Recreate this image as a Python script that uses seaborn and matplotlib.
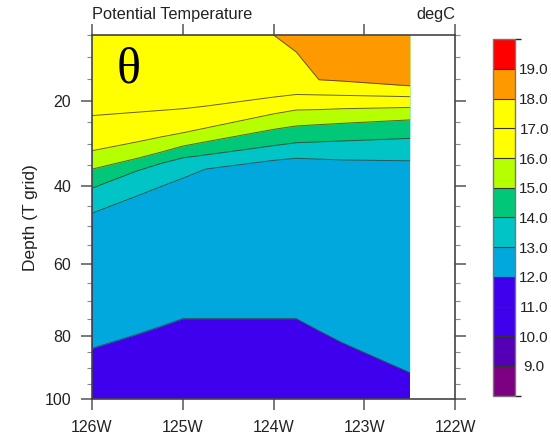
import numpy as np
import matplotlib
matplotlib.use("Agg")
import matplotlib.pyplot as plt
import seaborn as sns
from matplotlib.colors import ListedColormap, BoundaryNorm
from matplotlib.cm import ScalarMappable
from matplotlib.ticker import FixedLocator, MultipleLocator, FuncFormatter

# ---------------------------------------------------------------------------
# Section data: longitude (deg E) and the depth (m) of each isotherm
# ---------------------------------------------------------------------------
lons = np.array([-126.0, -125.5, -125.25, -125.0, -124.75,
                 -124.0, -123.75, -123.5, -123.25, -122.5])

iso_12 = [83.8, 79.5, 77.3, 75.0, 75.0, 75.0, 75.0, 78.5, 82.0, 91.3]
iso_13 = [46.8, 42.5, 40.3, 38.2, 36.0, 33.9, 33.4, 33.6, 33.8, 34.0]
iso_14 = [40.6, 36.4, 34.7, 33.3, 32.6, 30.4, 29.7, 29.5, 29.3, 28.7]
iso_15 = [36.0, 33.4, 32.0, 30.5, 29.5, 26.6, 25.8, 25.5, 25.2, 24.4]
iso_16 = [31.6, 29.5, 28.4, 27.4, 26.3, 23.0, 22.1, 22.0, 21.8, 21.5]
iso_17 = [23.4, 22.6, 22.2, 21.8, 21.2, 19.1, 18.5, 18.6, 18.7, 19.0]
iso_18 = [np.nan, np.nan, np.nan, np.nan, np.nan, 5.0, 8.8, 15.1, 15.4, 16.5]

isotherm_levels = [12, 13, 14, 15, 16, 17, 18]
isotherm_depths = [iso_12, iso_13, iso_14, iso_15, iso_16, iso_17, iso_18]

top_depth, bottom_depth = 5.0, 100.0
deepest_band_temp = 11  # water below the 12 degC isotherm lies in 11-12 degC

# Colour scale: band edges and one colour per band
band_edges = list(range(8, 21))
band_colors = ["#7d0082", "#5400b6", "#3f00ee", "#3f00ee", "#00a8de",
               "#00c4c6", "#00c878", "#b6ff00", "#ffff00", "#ffff00",
               "#ff9900", "#ff0000"]
bar_ticks = list(range(9, 20))
lon_ticks = [-126, -125, -124, -123, -122]
depth_ticks = [20, 40, 60, 80, 100]

# ---------------------------------------------------------------------------
# Stretched vertical axis (model T-grid spacing)
# ---------------------------------------------------------------------------
_stretch_d = np.array([-1000, 5, 10, 15, 20, 25, 30, 35, 40, 45, 50, 55,
                       60, 65, 70, 75, 80, 85, 90, 95, 100, 1000], float)
_stretch_p = np.array([-4482, 0, 22.3, 44.3, 66, 87.5, 109, 130, 150.7, 171,
                       191, 210.5, 229.3, 248, 266, 283.7, 301, 317.3, 333.5,
                       349.3, 364.3, 3064.3], float)


def _fwd(d):
    return np.interp(d, _stretch_d, _stretch_p)


def _inv(p):
    return np.interp(p, _stretch_p, _stretch_d)


# ---------------------------------------------------------------------------
sns.set_theme(style="ticks")
plt.rcParams["font.family"] = ["Liberation Sans", "DejaVu Sans"]

fig = plt.figure(figsize=(5.51, 4.38), dpi=100)
ax = fig.add_axes([0.1670, 0.0884, 0.6588, 0.8317])
cax = fig.add_axes([0.8953, 0.0966, 0.0399, 0.8137])

ax.set_yscale("function", functions=(_fwd, _inv))
ax.set_xlim(-126, -122)
ax.set_ylim(bottom_depth, top_depth)

cmap = ListedColormap(band_colors)
norm = BoundaryNorm(band_edges, cmap.N)

# Filled bands, painted from the deepest isotherm upward
ax.fill_between(lons, top_depth, bottom_depth,
                color=cmap(norm(deepest_band_temp + 0.5)), lw=0)
for lev, dep in zip(isotherm_levels, isotherm_depths):
    dep = np.asarray(dep, float)
    ax.fill_between(lons, top_depth, dep, where=~np.isnan(dep),
                    color=cmap(norm(lev + 0.5)), lw=0, interpolate=False)

# Isotherm outlines
for lev, dep in zip(isotherm_levels, isotherm_depths):
    dep = np.asarray(dep, float)
    ok = ~np.isnan(dep)
    sns.lineplot(x=lons[ok], y=dep[ok], ax=ax, sort=False, estimator=None,
                 color="#3a3a3a", lw=0.7, alpha=0.8, legend=False)

# Axes styling
ax.xaxis.set_major_locator(FixedLocator(lon_ticks))
ax.xaxis.set_major_formatter(FuncFormatter(lambda v, p: f"{abs(int(round(v)))}W"))
ax.yaxis.set_major_locator(FixedLocator(depth_ticks))
ax.yaxis.set_minor_locator(MultipleLocator(5))
ax.yaxis.set_major_formatter(FuncFormatter(lambda v, p: f"{int(round(v))}"))
ax.xaxis.set_minor_locator(FixedLocator([]))

ax.tick_params(axis="both", which="major", direction="out", length=8,
               width=1.1, color="#555555", labelsize=11.5, pad=7,
               labelcolor="#222222")
ax.tick_params(axis="x", which="major", top=True, bottom=True)
ax.tick_params(axis="y", which="major", left=True, right=True)
ax.tick_params(axis="y", which="minor", left=True, right=True, direction="out",
               length=3.6, width=0.8, color="#888888")
for sp in ax.spines.values():
    sp.set_color("#444444")
    sp.set_linewidth(1.2)
    sp.set_visible(True)
ax.set_facecolor("white")
ax.set_xlabel("")
ax.set_ylabel("Depth (T grid)", fontsize=12.5, labelpad=5, color="#222222")

ax.annotate("Potential Temperature", xy=(0, 1), xycoords="axes fraction",
            xytext=(0, 11.5), textcoords="offset points", ha="left",
            va="baseline", fontsize=11.8, color="#222222")
ax.annotate("degC", xy=(1, 1), xycoords="axes fraction",
            xytext=(0, 11.5), textcoords="offset points", ha="right",
            va="baseline", fontsize=11.8, color="#222222")
ax.text(0.102, 0.904, "\u03b8", transform=ax.transAxes, ha="center",
        va="center", fontsize=36, family=["Liberation Serif", "DejaVu Serif"],
        color="black")

# Label bar
sm = ScalarMappable(norm=norm, cmap=cmap)
cbar = fig.colorbar(sm, cax=cax, drawedges=True, ticks=bar_ticks)
cbar.set_ticklabels([f"{v:.1f}" for v in bar_ticks])
cax.tick_params(length=0, pad=13.6, labelsize=11, labelcolor="#222222")
for lbl in cax.get_yticklabels():
    lbl.set_ha("center")
cbar.outline.set_edgecolor("#777777")
cbar.outline.set_linewidth(1.0)
cbar.dividers.set_color("#333333")
cbar.dividers.set_linewidth(0.8)

fig.savefig("out.png", dpi=100)
